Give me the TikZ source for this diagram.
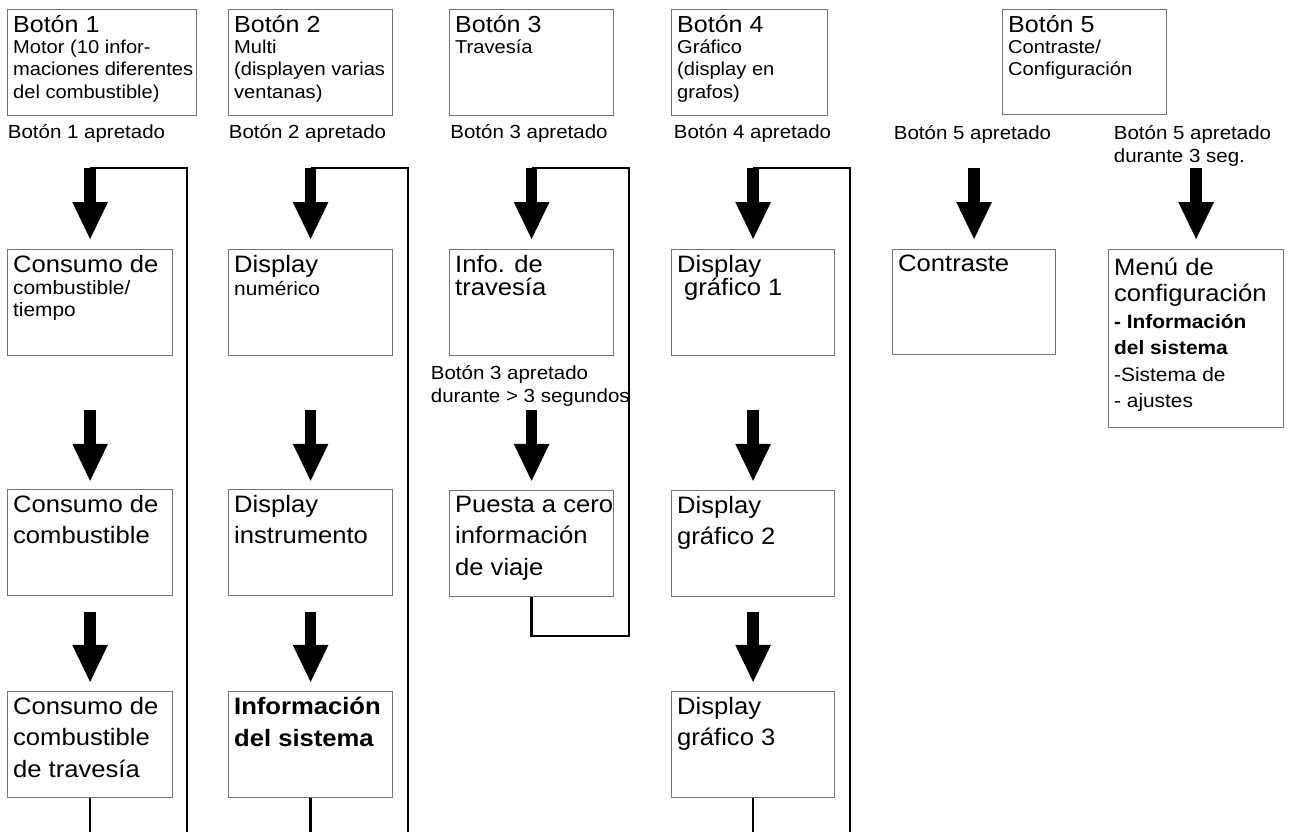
\documentclass[tikz,border=0pt]{standalone}
\usepackage{fontspec}
\setmainfont{Liberation Sans}[FakeStretch=1.08]
\usetikzlibrary{arrows.meta}
\begin{document}
\begin{tikzpicture}[x=.02cm,y=-.02cm,
    box/.style={draw=black!55,line width=.7pt,anchor=north west,inner sep=0pt,minimum width=3.28cm,minimum height=2.12cm},
    txt/.style={anchor=north west,align=left,inner xsep=3.3pt,inner ysep=3.2pt,font=\fontsize{13.5}{18}\selectfont},
    sub/.style={txt,font=\fontsize{10.6}{13}\selectfont},
    lbl/.style={anchor=north west,align=left,inner sep=0pt,font=\fontsize{10.8}{13}\selectfont},
    bigarrow/.style={line width=6.6pt,-{Triangle[width=18.5pt,length=21.7pt]}},
    back/.style={line width=1.3pt}]
  \useasboundingbox (0,0) rectangle (1290,832);
  \coordinate (bot) at (0,832);

  \node[box,minimum width=3.78cm] (b1) at (7,9) {};
  \node[sub] (b1t) at (b1.north west) {{\fontsize{13.2}{14}\selectfont Botón 1}\\[-1pt]Motor (10 infor-\\maciones diferentes\\del combustible)};
  \node[box] (b2) at (228,9) {};
  \node[sub] (b2t) at (b2.north west) {{\fontsize{13.2}{14}\selectfont Botón 2}\\[-1pt]Multi\\(displayen varias\\ventanas)};
  \node[box] (b3) at (449,9) {};
  \node[sub] (b3t) at (b3.north west) {{\fontsize{13.2}{14}\selectfont Botón 3}\\[-1pt]Travesía};
  \node[box,minimum width=3.12cm] (b4) at (671,9) {};
  \node[sub] (b4t) at (b4.north west) {{\fontsize{13.2}{14}\selectfont Botón 4}\\[-1pt]Gráfico\\(display en\\grafos)};
  \node[box,minimum height=2.1cm] (b5) at (1002,9) {};
  \node[sub] (b5t) at (b5.north west) {{\fontsize{13.2}{14}\selectfont Botón 5}\\[-1pt]Contraste/\\Configuración};

  \node[lbl] (l1) at (7.5,124) {Botón 1 apretado};
  \node[lbl] (l2) at (228.5,124) {Botón 2 apretado};
  \node[lbl] (l3) at (450,124) {Botón 3 apretado};
  \node[lbl] (l4) at (673.5,124) {Botón 4 apretado};
  \node[lbl] (l5) at (893.5,125) {Botón 5 apretado};
  \node[lbl] (l6) at (1113.5,125) {Botón 5 apretado\\durante 3 seg.};

  \node[box,minimum width=3.3cm] (c1a) at (7,249) {};
  \node[sub,font=\fontsize{11}{12.5}\selectfont] (c1at) at (c1a.north west) {{\fontsize{13.5}{18}\selectfont Consumo de}\\combustible/\\tiempo};
  \node[box,minimum width=3.3cm] (c1b) at (7,489) {};
  \node[txt] (c1bt) at (c1b.north west) {Consumo de\\combustible};
  \node[box,minimum width=3.3cm] (c1c) at (7,691) {};
  \node[txt] (c1ct) at (c1c.north west) {Consumo de\\combustible\\de travesía};

  \node[box] (c2a) at (228,249) {};
  \node[sub,font=\fontsize{11}{13}\selectfont] (c2at) at (c2a.north west) {{\fontsize{13.5}{18}\selectfont Display}\\numérico};
  \node[box] (c2b) at (228,489) {};
  \node[txt] (c2bt) at (c2b.north west) {Display\\instrumento};
  \node[box] (c2c) at (228,691) {};
  \node[txt] (c2ct) at (c2c.north west) {\textbf{Información}\\\textbf{del sistema}};

  \node[box] (c3a) at (449,249) {};
  \node[txt] (c3at) at (c3a.north west) {Info. de\\[-5pt]travesía};
  \node[lbl] (l7) at (430.5,365) {Botón 3 apretado\\durante > 3 segundos};
  \node[box] (c3b) at (449,490) {};
  \node[txt] (c3bt) at (c3b.north west) {Puesta a cero\\información\\de viaje};

  \node[box,minimum width=3.26cm] (c4a) at (671,249) {};
  \node[txt] (c4at) at (c4a.north west) {Display\\[-5pt]\hspace*{4pt}gráfico 1};
  \node[box,minimum width=3.26cm] (c4b) at (671,490) {};
  \node[txt] (c4bt) at (c4b.north west) {Display\\gráfico 2};
  \node[box,minimum width=3.26cm] (c4c) at (671,691) {};
  \node[txt] (c4ct) at (c4c.north west) {Display\\gráfico 3};

  \node[box,minimum width=3.26cm,minimum height=2.1cm] (c5a) at (892,249) {};
  \node[txt] (c5at) at (c5a.north west) {Contraste};
  \node[box,minimum width=3.5cm,minimum height=3.56cm] (c5b) at (1108,249) {};
  \node[txt,inner ysep=5pt,font=\fontsize{11}{15}\selectfont] (c5bt) at (c5b.north west) {{\fontsize{13.5}{15}\selectfont Menú de}\\{\fontsize{13.5}{15}\selectfont configuración}\\\textbf{- Información}\\\textbf{del sistema}\\-Sistema de\\- ajustes};

  \coordinate (a1) at (c1a.north |- 0,168);
  \coordinate (a2) at (c2a.north |- 0,168);
  \coordinate (a3) at (c3a.north |- 0,168);
  \coordinate (a4) at (c4a.north |- 0,168);
  \coordinate (a5) at (c5a.north |- 0,168);
  \coordinate (a6) at (c5b.north |- 0,168);
  \coordinate (e1) at (187,832);
  \coordinate (e2) at (408,832);
  \coordinate (r3) at (629,636);
  \coordinate (e4) at (850,832);

  \draw[back] (a1) -| (e1);
  \draw[back] (a2) -| (e2);
  \draw[back] (c3b.south) |- (r3) |- (a3);
  \draw[back] (a4) -| (e4);
  \draw[back] (c1c.south) -- (c1c.south |- bot);
  \draw[back] (c2c.south) -- (c2c.south |- bot);
  \draw[back] (c4c.south) -- (c4c.south |- bot);

  \draw[bigarrow,shorten >=5pt] (a1) -- (c1a.north);
  \draw[bigarrow,shorten >=5pt] (a2) -- (c2a.north);
  \draw[bigarrow,shorten >=5pt] (a3) -- (c3a.north);
  \draw[bigarrow,shorten >=5pt] (a4) -- (c4a.north);
  \draw[bigarrow,shorten >=5pt] (a5) -- (c5a.north);
  \draw[bigarrow,shorten >=5pt] (a6) -- (c5b.north);
  \draw[bigarrow,shorten <=30.6pt,shorten >=4pt] (c1a) -- (c1b);
  \draw[bigarrow,shorten <=9pt,shorten >=4.5pt] (c1b) -- (c1c);
  \draw[bigarrow,shorten <=30.6pt,shorten >=4pt] (c2a) -- (c2b);
  \draw[bigarrow,shorten <=9pt,shorten >=4.5pt] (c2b) -- (c2c);
  \draw[bigarrow,shorten <=30.6pt,shorten >=4.5pt] (c3a) -- (c3b);
  \draw[bigarrow,shorten <=30.6pt,shorten >=4.5pt] (c4a) -- (c4b);
  \draw[bigarrow,shorten <=8.5pt,shorten >=4.5pt] (c4b) -- (c4c);
\end{tikzpicture}
\end{document}
